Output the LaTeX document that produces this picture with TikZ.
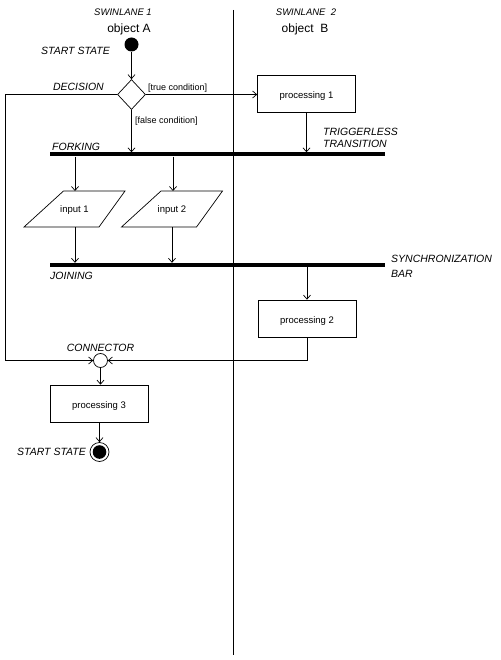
\documentclass[tikz,border=0pt]{standalone}
\usepackage{fontspec}
\setmainfont{Liberation Sans}
\usetikzlibrary{arrows.meta,shapes.geometric,calc}
\begin{document}
\begin{tikzpicture}[x=1pt,y=-1pt,
  line/.style={line width=0.7pt},
  conn/.style={line, -{Straight Barb[length=4pt,width=7pt]}},
  lbl/.style={font=\fontsize{10.5}{12}\selectfont\itshape, inner sep=0pt, anchor=base west},
  lanelbl/.style={font=\fontsize{9.5}{11}\selectfont\itshape, inner sep=0pt, anchor=base},
  objlbl/.style={font=\fontsize{12}{14}\selectfont, inner sep=0pt, anchor=base},
  cond/.style={font=\fontsize{9}{11}\selectfont, inner sep=0pt, anchor=base west},
  proc/.style={draw, line, minimum width=98pt, minimum height=37pt, inner sep=0pt,
    text height=9pt, text depth=0pt, font=\fontsize{9.5}{11}\selectfont},
  inp/.style={inner sep=0pt, font=\fontsize{9.5}{11}\selectfont, text height=7pt, text depth=0pt},
  syncbar/.style={fill=black, minimum width=335pt, minimum height=4pt, inner sep=0pt},
  ]
\useasboundingbox (0,0) rectangle (500,660);
\fill[white] (0,0) rectangle (500,660);

% swimlanes
\node[lanelbl] (sw1) at (123,16) {SWINLANE 1};
\node[objlbl] (oa) at (129,33) {object A};
\node[lanelbl] (sw2) at (306,16) {SWINLANE~~2};
\node[objlbl] (ob) at (305,33) {object~~B};
\coordinate (divtop) at (233,10);
\coordinate (divbot) at (233,655);
\draw[line] (divtop) -- (divbot);

% start
\node[circle, fill=black, minimum size=14pt, inner sep=0pt] (start) at (131.5,44.5) {};
\node[lbl, anchor=base east] (lstart) at (110,55) {START STATE};

% decision
\node[diamond, draw, line, minimum width=28pt, minimum height=30pt, inner sep=0pt] (dec) at (131.5,94.5) {};
\draw[conn] (start) -- (dec.north);
\node[lbl, anchor=base east] (ldec) at (104,91) {DECISION};
\node[cond] (ltrue) at (148,91) {[true condition]};
\node[cond] (lfalse) at (135,124) {[false condition]};

% processing 1
\node[proc] (p1) at (306.5,94) {processing 1};
\draw[conn] (dec.east) -- (dec.east -| p1.west);

% fork bar
\node[syncbar] (fork) at (217.5,154.5) {};
\draw[conn] (dec.south) -- (dec.south |- fork.north);
\draw[conn] (p1.south) -- (p1.south |- fork.north);
\node[lbl] (lfork) at (52,151) {FORKING};
\node[lbl] (ltrig1) at (323,136) {TRIGGERLESS};
\node[lbl] (ltrig2) at (323,148) {TRANSITION};

% inputs
\node[inp] (in1) at (74.5,209) {input 1};
\node[inp] (in2) at (172,209) {input 2};
\foreach \n in {in1,in2}{
  \draw[line] ($(\n)+(-11,-18)$) -- ($(\n)+(50.5,-18)$) -- ($(\n)+(24.5,18)$) -- ($(\n)+(-50.5,18)$) -- cycle;
}
\coordinate (in1top) at ($(in1)+(0.5,-18)$);
\coordinate (in2top) at ($(in2)+(1,-18)$);
\coordinate (in1bot) at ($(in1)+(0.5,18)$);
\coordinate (in2bot) at ($(in2)+(0,18)$);
\draw[conn] (fork.south -| in1top) -- (in1top);
\draw[conn] (fork.south -| in2top) -- (in2top);

% join bar
\node[syncbar] (join) at (217.5,265) {};
\draw[conn] (in1bot) -- (in1bot |- join.north);
\draw[conn] (in2bot) -- (in2bot |- join.north);
\node[lbl] (ljoin) at (50,279) {JOINING};
\node[lbl] (lsync1) at (391,262) {SYNCHRONIZATION};
\node[lbl] (lsync2) at (391,277) {BAR};

% processing 2
\node[proc] (p2) at (307,318.5) {processing 2};
\draw[conn] (join.south -| p2.north) -- (p2.north);

% connector
\node[circle, draw, line, minimum size=14pt, inner sep=0pt] (cn) at (100.5,360.5) {};
\node[lbl, anchor=base] (lcn) at (100.5,351) {CONNECTOR};
\coordinate (leftrail) at (5,200);
\draw[conn] (dec.west) -- (dec.west -| leftrail) |- (cn.west);
\draw[conn] (p2.south) |- (cn.east);

% processing 3
\node[proc] (p3) at (99,403.5) {processing 3};
\draw[conn] (cn.south) -- (cn.south |- p3.north);

% end state
\node[circle, draw, line, minimum size=19pt, inner sep=0pt,
  path picture={\fill (path picture bounding box.center) circle (6.8pt);}] (end) at (99.5,452) {};
\draw[conn] (p3.south -| end) -- (end.north);
\node[lbl, anchor=base east] (lend) at (86,455) {START STATE};
\end{tikzpicture}
\end{document}
